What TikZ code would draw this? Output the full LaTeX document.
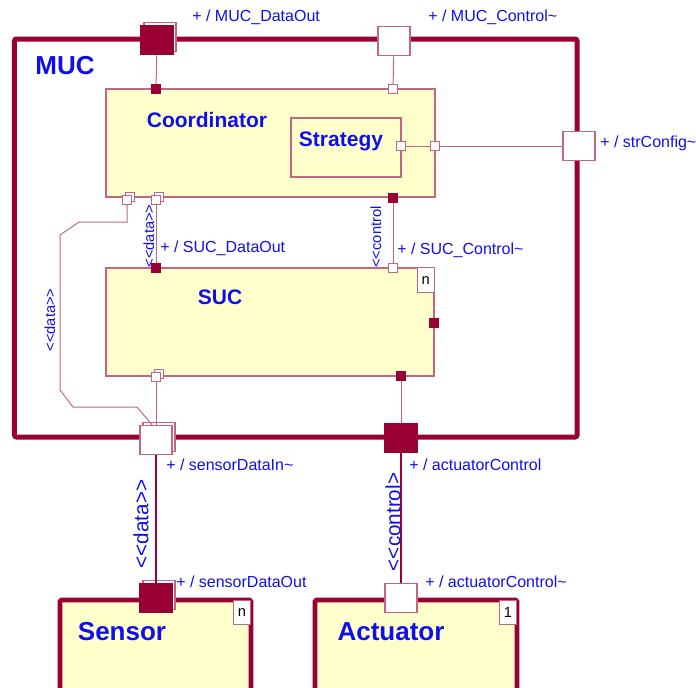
\documentclass[tikz,border=0pt]{standalone}
\usepackage{fontspec}
\setmainfont{Liberation Sans}
\usetikzlibrary{shadows}

\definecolor{mucred}{RGB}{153,0,51}
\colorlet{linered}{mucred!60!white}
\definecolor{partfill}{RGB}{255,255,204}
\definecolor{umlblue}{RGB}{15,15,235}

\newcommand{\stereo}[1]{<{}<#1>{}>}

\begin{document}
\begin{tikzpicture}[
        x=0.75pt,
        y=-0.75pt,
        frame/.style={draw=mucred, line width=3.75pt, rounded corners=1.5pt, inner sep=0pt},
        unit/.style={draw=mucred, fill=partfill, line width=3.4pt, rounded corners=1pt, inner sep=0pt},
        part/.style={draw=linered, fill=partfill, line width=0.9pt, inner sep=0pt},
        tag/.style={draw=linered, fill=white, line width=0.75pt, minimum width=12.5pt, minimum height=18pt, inner sep=0pt, font=\fontsize{11}{13}\selectfont, anchor=north east},
        port/.style={draw=linered, fill=white, line width=0.9pt, minimum width=24pt, minimum height=22pt, inner sep=0pt},
        pin/.style={draw=linered, fill=white, line width=0.75pt, minimum size=6.5pt, inner sep=0pt},
        fullport/.style={fill=mucred, draw=mucred},
        shadowed/.style={copy shadow={shadow xshift=2.2pt, shadow yshift=2.2pt, draw=linered, fill=white}},
        wire/.style={draw=linered, line width=0.75pt},
        link/.style={draw=mucred, line width=2pt},
        lbl/.style={text=umlblue, font=\fontsize{12}{14}\selectfont, inner sep=0pt},
        tag lbl/.style={text=umlblue, font=\fontsize{11}{13}\selectfont, inner sep=0pt, rotate=90},
        big lbl/.style={text=umlblue, font=\fontsize{15.5}{18}\selectfont, inner sep=0pt, rotate=90},
        head/.style={text=umlblue, font=\fontsize{15.75}{18}\selectfont\bfseries},
        title/.style={text=umlblue, font=\fontsize{19.5}{22}\selectfont\bfseries}
    ]
        \useasboundingbox (0,0) rectangle (696,687);
        \clip (0,0) rectangle (696,687);

        % MUC with its parts
        \node[frame, minimum width=421.9pt, minimum height=298.5pt] (muc) at (295.75,238) {};
        \node[title] (mucName) at (65,66) {MUC};
        \node[part, minimum width=246.75pt, minimum height=81pt] (coord) at (270.5,143) {};
        \node[head] (coordName) at (207,120) {Coordinator};
        \node[part, minimum width=82.5pt, minimum height=44.25pt] (strat) at (346,147.5) {};
        \node[head] (stratName) at (341,141) {Strategy};
        \node[part, minimum width=246pt, minimum height=81pt] (suc) at (270,322) {};
        \node[head] (sucName) at (220,297) {SUC};
        \node[tag, minimum height=18.75pt] (sucMult) at (suc.north east) {n};

        % Sensor and Actuator below the frame
        \node[unit, minimum width=143.25pt, minimum height=90pt] (sensor) at (155.5,660) {};
        \node[title] (sensorName) at (122,632) {Sensor};
        \node[tag] (sensorMult) at ([xshift=-1.9pt,yshift=-1.9pt]sensor.north east) {n};
        \node[unit, minimum width=151.5pt, minimum height=90pt] (actuator) at (416,660) {};
        \node[title] (actuatorName) at (391,632) {Actuator};
        \node[tag] (actuatorMult) at ([xshift=-1.9pt,yshift=-1.9pt]actuator.north east) {1};

        % ports on the frame and on Sensor / Actuator
        \node[port, fullport, shadowed] (mucDataOut) at (157,40) {};
        \node[port] (mucCtrl) at (394,41) {};
        \node[port] (strCfg) at (579,146) {};
        \node[port, shadowed] (sensIn) at (156,440) {};
        \node[port, fullport] (actCtrl) at (401,438) {};
        \node[port, fullport, shadowed] (sensOut) at (156,598) {};
        \node[port] (actCtrlIn) at (401,598) {};

        % small ports of the parts
        \foreach \name/\pos/\look in {cTopData/{156,89}/fullport, cTopCtrl/{393,89}/, stratPin/{401,146}/, cRight/{435,146}/,
            cBotLoop/{127,200}/shadowed, cBotData/{156,200}/shadowed, cBotCtrl/{393,198}/fullport,
            sTopData/{156,268}/fullport, sTopCtrl/{393,268}/, sRight/{434,323}/fullport,
            sBotData/{156,377}/shadowed, sBotCtrl/{401,376}/fullport} {
            \node[pin, \look] (\name) at (\pos) {};
        }

        % connectors
        \draw[wire] (mucDataOut) -- (cTopData);
        \draw[wire] (mucCtrl) -- (cTopCtrl);
        \draw[wire] (stratPin) -- (cRight) -- (strCfg);
        \draw[wire] (cBotData) -- (sTopData);
        \draw[wire] (cBotCtrl) -- (sTopCtrl);
        \draw[wire] (sBotData) -- (sensIn);
        \draw[wire] (sBotCtrl) -- (actCtrl);
        \draw[wire] (cBotLoop) -- (127,222) -- (79,222) -- (60,235) -- (60,390) -- (73,407) -- (137,407) -- ([xshift=-3pt]sensIn.north);
        \draw[link] (sensIn) -- (sensOut);
        \draw[link] (actCtrl) -- (actCtrlIn);

        % port names and stereotypes
        \node[lbl, anchor=west] (mucDataOutLbl) at (192,17) {+ / MUC\_DataOut};
        \node[lbl, anchor=west] (mucCtrlLbl) at (428,17) {+ / MUC\_Control\textasciitilde};
        \node[lbl, anchor=west] (strCfgLbl) at (600,143) {+ / strConfig\textasciitilde};
        \node[lbl, anchor=west] (sucDataLbl) at (160,248) {+ / SUC\_DataOut};
        \node[lbl, anchor=west] (sucCtrlLbl) at (397,250) {+ / SUC\_Control\textasciitilde};
        \node[lbl, anchor=west] (sensInLbl) at (166,465) {+ / sensorDataIn\textasciitilde};
        \node[lbl, anchor=west] (actCtrlLbl) at (409,465) {+ / actuatorControl};
        \node[lbl, anchor=west] (sensOutLbl) at (176,582) {+ / sensorDataOut};
        \node[lbl, anchor=west] (actInLbl) at (425,582) {+ / actuatorControl\textasciitilde};
        \node[tag lbl] (loopTag) at (50,320) {\stereo{data}};
        \node[tag lbl] (sucDataTag) at (149,236) {\stereo{data}};
        \node[tag lbl] (sucCtrlTag) at (376,237) {<{}<control};
        \node[big lbl] (sensTag) at (141,524) {\stereo{data}};
        \node[big lbl] (actTag) at (393,522) {<{}<control>};
    \end{tikzpicture}
\end{document}
